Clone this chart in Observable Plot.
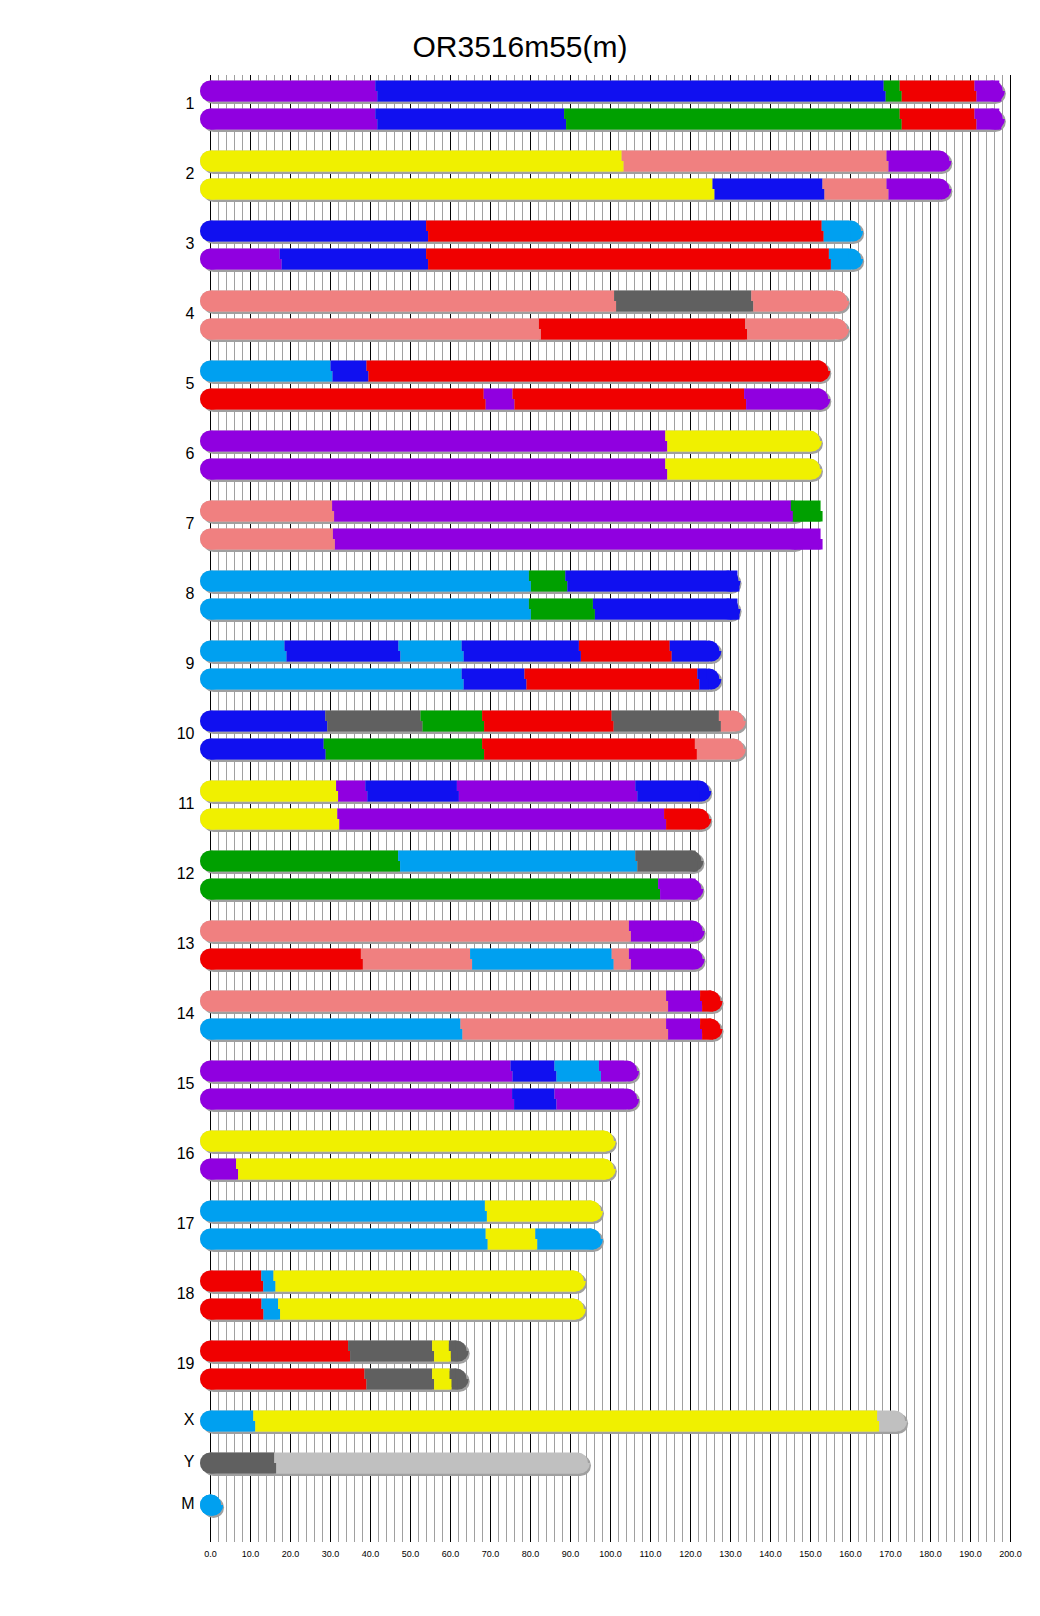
<!DOCTYPE html>
<html><head><meta charset="utf-8">
<script src="https://cdn.jsdelivr.net/npm/d3@7"></script>
<script src="https://cdn.jsdelivr.net/npm/@observablehq/plot@0.6"></script>
<style>
html,body{margin:0;padding:0;background:#fff;}
#wrap{position:relative;width:1040px;height:1616px;font-family:"Liberation Sans",Arial,sans-serif;}
#title{position:absolute;left:0;top:32px;width:1040px;text-align:center;font-size:30px;line-height:30px;color:#000;}
#chart{position:absolute;left:0;top:0;}
</style></head>
<body>
<div id="wrap"><div id="chart"></div><div id="title">OR3516m55(m)</div></div>
<script>
// Founder categories (CC founders) and their colours
const founders = ["A", "B", "C", "D", "E", "F", "G", "H"];
const founderColors = ["#F0F000", "#606060", "#F08080", "#1010F0", "#00A0F0", "#00A000", "#F00000", "#9000E0"];
const baseColor = "#C0C0C0";

const chromosomes = ["1","2","3","4","5","6","7","8","9","10","11","12","13","14","15","16","17","18","19","X","Y","M"];
const chromLengths = [195.47, 182.11, 160.04, 156.51, 151.83, 149.74, 145.44, 129.40, 124.60, 130.69, 122.08, 120.13, 120.42, 124.90, 104.04, 98.21, 94.99, 90.70, 61.43, 171.03, 91.74, 0.016];

// haplotype segments per chromosome: [founder, start, end] (Mb)
const chr1 = [
  [["H",0,41.2],["D",41.2,168.3],["F",168.3,172.3],["G",172.3,191.0],["H",191.0,197.2]],
  [["H",0,41.2],["D",41.2,88.4],["F",88.4,172.3],["G",172.3,191.0],["H",191.0,197.2]]
];
const chr2 = [
  [["A",0,102.8],["C",102.8,169.0],["H",169.0,181.75]],
  [["A",0,125.5],["D",125.5,153.0],["C",153.0,169.0],["H",169.0,181.75]]
];
const chr3 = [
  [["D",0,53.9],["G",53.9,152.8],["E",152.8,159.6]],
  [["H",0,17.3],["D",17.3,53.9],["G",53.9,154.6],["E",154.6,159.6]]
];
const chr4 = [
  [["C",0,100.9],["B",100.9,135.2],["C",135.2,155.63]],
  [["C",0,82.1],["G",82.1,133.7],["C",133.7,155.63]]
];
const chr5 = [
  [["E",0,30.0],["D",30.0,39.0],["G",39.0,152.54]],
  [["G",0,68.3],["H",68.3,75.5],["G",75.5,133.4],["H",133.4,152.54]]
];
const chr6 = [
  [["H",0,113.7],["A",113.7,149.52]],
  [["H",0,113.7],["A",113.7,149.52]]
];
const chr7 = [
  [["C",0,30.4],["H",30.4,145.1],["F",145.1,152.52]],
  [["C",0,30.6],["H",30.6,152.52]]
];
const chr8 = [
  [["E",0,79.6],["F",79.6,88.7],["D",88.7,131.74]],
  [["E",0,79.6],["F",79.6,95.6],["D",95.6,131.74]]
];
const chr9 = [
  [["E",0,18.5],["D",18.5,47.0],["E",47.0,62.8],["D",62.8,92.1],["G",92.1,114.8],["D",114.8,124.08]],
  [["E",0,62.8],["D",62.8,78.5],["G",78.5,121.7],["D",121.7,124.08]]
];
const chr10 = [
  [["D",0,28.7],["B",28.7,52.5],["F",52.5,67.9],["G",67.9,100.3],["B",100.3,127.1],["C",127.1,129.99]],
  [["D",0,28.3],["F",28.3,67.9],["G",67.9,121.1],["C",121.1,129.99]]
];
const chr11 = [
  [["A",0,31.4],["H",31.4,38.7],["D",38.7,61.6],["H",61.6,106.2],["D",106.2,121.84]],
  [["A",0,31.7],["H",31.7,113.4],["G",113.4,121.84]]
];
const chr12 = [
  [["F",0,46.9],["E",46.9,106.2],["B",106.2,121.26]],
  [["F",0,111.9],["H",111.9,121.26]]
];
const chr13 = [
  [["C",0,104.6],["H",104.6,120.28]],
  [["G",0,37.6],["C",37.6,64.9],["E",64.9,100.3],["C",100.3,104.6],["H",104.6,120.28]]
];
const chr14 = [
  [["C",0,113.9],["H",113.9,122.4],["G",122.4,125.19]],
  [["E",0,62.5],["C",62.5,113.9],["H",113.9,122.4],["G",122.4,125.19]]
];
const chr15 = [
  [["H",0,75.0],["D",75.0,86.0],["E",86.0,97.1],["H",97.1,103.49]],
  [["H",0,75.4],["D",75.4,86.0],["H",86.0,103.49]]
];
const chr16 = [
  [["A",0,98.32]],
  [["H",0,6.4],["A",6.4,98.32]]
];
const chr17 = [
  [["E",0,68.6],["A",68.6,95.27]],
  [["E",0,68.8],["A",68.8,81.2],["E",81.2,95.27]]
];
const chr18 = [
  [["G",0,12.7],["E",12.7,15.75],["A",15.75,90.77]],
  [["G",0,12.75],["E",12.75,16.9],["A",16.9,90.77]]
];
const chr19 = [
  [["G",0,34.4],["B",34.4,55.4],["A",55.4,59.6],["B",59.6,61.34]],
  [["G",0,38.5],["B",38.5,55.4],["A",55.4,59.8],["B",59.8,61.34]]
];
const chrX = [ [["E",0,10.7],["A",10.7,166.65]] ];
const chrY = [ [["B",0,15.9]] ];
const chrM = [ [["E",0,0.016]] ];

const haplotypeSets = [chr1,chr2,chr3,chr4,chr5,chr6,chr7,chr8,chr9,chr10,chr11,chr12,chr13,chr14,chr15,chr16,chr17,chr18,chr19,chrX,chrY,chrM];

const xTicks = d3.range(0, 201, 10);
const minorTicks = d3.range(0, 201, 2).filter(v => v % 10 !== 0);

// ---- build tables ----
const rows = [], segs = [], capsL = [], capsR = [], capsRBase = [], labels = [];
chromosomes.forEach((name, k) => {
  const L = chromLengths[k];
  const haps = haplotypeSets[k];
  const lab = k < 19 ? 5 * k + 1 : 95 + 3 * (k - 19);
  labels.push({name, slot: lab, x: 0});
  haps.forEach((h, j) => {
    const slot = k < 19 ? 5 * k + 2 * j : 95 + 3 * (k - 19);
    rows.push({slot, L, x0: 0});
    h.forEach(([f, s, e]) => segs.push({slot, founder: f, s, e}));
    capsL.push({slot, x: 0, founder: h[0][0]});
    const last = h[h.length - 1];
    if (last[2] >= L - 2.5) capsR.push({slot, x: L, founder: last[0]});
    else capsRBase.push({slot, x: L});
  });
});

const halfDown = {
  draw(ctx, size) {
    const r = Math.sqrt(size / Math.PI);
    ctx.moveTo(r, 0);
    ctx.arc(0, 0, r, 0, Math.PI);
    ctx.closePath();
  }
};

const W = 21;
const plot = Plot.plot({
  width: 1040,
  height: 1616,
  marginLeft: 210,
  marginRight: 30,
  marginTop: 75,
  marginBottom: 74,
  style: {fontFamily: "Liberation Sans, Arial, sans-serif", fontSize: "10px", background: "white", color: "black"},
  x: {domain: [0, 200]},
  y: {domain: [-1.1071, 103.6786], reverse: true, axis: null},
  color: {type: "ordinal", domain: founders, range: founderColors},
  marks: [
    Plot.ruleX(minorTicks, {stroke: "#a0a0a0", strokeWidth: 1}),
    Plot.ruleX(xTicks, {stroke: "#000", strokeWidth: 1}),
    Plot.axisX({ticks: xTicks, tickFormat: d3.format(".1f"), tickSize: 0, tickPadding: 8, fontSize: 9, label: null, anchor: "bottom"}),
    // shadow
    Plot.link(rows, {x1: "x0", x2: "L", y1: "slot", y2: "slot", stroke: "#a0a0a0", strokeWidth: W, strokeLinecap: "round", dx: 3, dy: 2.5}),
    // base chromosome
    Plot.link(rows, {x1: "x0", x2: "L", y1: "slot", y2: "slot", stroke: baseColor, strokeWidth: W, strokeLinecap: "round"}),
    Plot.dot(capsL, {x: "x", y: "slot", r: W / 2, fill: "founder"}),
    Plot.dot(capsR, {x: "x", y: "slot", r: W / 2, fill: "founder"}),
    Plot.link(segs, {x1: "s", x2: "e", y1: "slot", y2: "slot", stroke: "founder", strokeWidth: W, strokeLinecap: "butt"}),
    // lower half, shifted slightly right
    Plot.link(rows, {x1: "x0", x2: "L", y1: "slot", y2: "slot", stroke: baseColor, strokeWidth: W / 2, strokeLinecap: "butt", dx: 2, dy: W / 4}),
    Plot.dot(capsRBase, {x: "x", y: "slot", r: W / 2, symbol: halfDown, fill: baseColor, dx: 2}),
    Plot.dot(capsL, {x: "x", y: "slot", r: W / 2, symbol: halfDown, fill: "founder", dx: 2}),
    Plot.dot(capsR, {x: "x", y: "slot", r: W / 2, symbol: halfDown, fill: "founder", dx: 2}),
    Plot.link(segs, {x1: "s", x2: "e", y1: "slot", y2: "slot", stroke: "founder", strokeWidth: W / 2, strokeLinecap: "butt", dx: 2, dy: W / 4}),
    // labels
    Plot.text(labels, {x: "x", y: "slot", text: "name", dx: -16, dy: -1.5, textAnchor: "end", fontSize: 16, fill: "#000"})
  ]
});
document.getElementById("chart").appendChild(plot);
</script>
</body></html>
